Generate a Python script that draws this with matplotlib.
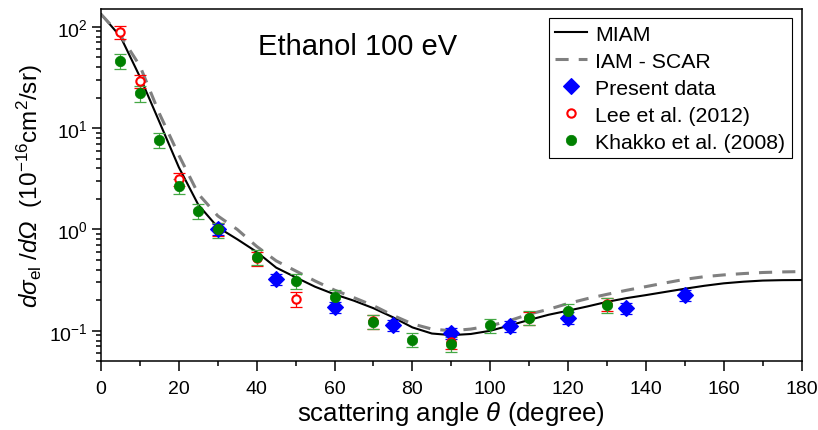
import numpy as np
import matplotlib
matplotlib.use('Agg')
import matplotlib.pyplot as plt
import matplotlib.ticker as mticker

plt.rcParams['font.family'] = ['Liberation Sans', 'DejaVu Sans']
plt.rcParams['mathtext.fontset'] = 'custom'
plt.rcParams['mathtext.rm'] = 'Liberation Sans'
plt.rcParams['mathtext.it'] = 'Liberation Sans:italic'
plt.rcParams['mathtext.bf'] = 'Liberation Sans:bold'
# sf used only for the italic capital Omega in the y label
plt.rcParams['mathtext.sf'] = 'Liberation Sans:italic'
plt.rcParams['axes.unicode_minus'] = False

# theory curves
theory_angle = [0, 5, 10, 15, 20, 25, 30, 35, 40, 45, 50, 55, 60, 65, 70, 75, 80, 85, 90,
                95, 100, 105, 110, 115, 120, 125, 130, 135, 140, 145, 150, 155, 160, 165,
                170, 175, 180]
miam = [133, 80, 32, 11.5, 4.1, 1.75, 1.05, 0.8, 0.6, 0.42, 0.337, 0.272, 0.229, 0.198,
        0.167, 0.136, 0.108, 0.094, 0.0906, 0.093, 0.1, 0.113, 0.128, 0.144, 0.158, 0.174,
        0.193, 0.21, 0.225, 0.242, 0.26, 0.278, 0.294, 0.305, 0.313, 0.316, 0.317]
iam_scar = [133, 82, 41, 13.9, 5.4, 2.24, 1.36, 1.0, 0.68, 0.49, 0.39, 0.31, 0.252, 0.212,
            0.177, 0.142, 0.117, 0.104, 0.10, 0.104, 0.112, 0.126, 0.146, 0.163, 0.186,
            0.208, 0.229, 0.251, 0.273, 0.297, 0.322, 0.342, 0.356, 0.367, 0.376, 0.381, 0.384]

# present data
present_angle = [30, 45, 60, 75, 90, 105, 120, 135, 150]
present_dcs = [1.0, 0.323, 0.171, 0.114, 0.095, 0.111, 0.135, 0.169, 0.223]
present_err = [0.12, 0.04, 0.02, 0.014, 0.012, 0.014, 0.017, 0.021, 0.027]

# Lee et al. (2012)
lee_angle = [5, 10, 20, 30, 40, 50, 70, 90, 110, 130]
lee_dcs = [89, 28.9, 3.15, 1.02, 0.52, 0.207, 0.124, 0.078, 0.133, 0.185]
lee_err = [13, 4.3, 0.47, 0.15, 0.08, 0.037, 0.019, 0.012, 0.02, 0.028]

# Khakko et al. (2008)
khakko_angle = [5, 10, 15, 20, 25, 30, 40, 50, 60, 70, 80, 90, 100, 110, 120, 130]
khakko_dcs = [46.4, 22.0, 7.6, 2.7, 1.53, 1.0, 0.535, 0.31, 0.215, 0.123, 0.082, 0.074,
              0.113, 0.135, 0.158, 0.18]
khakko_err = [8.0, 3.8, 1.3, 0.45, 0.26, 0.17, 0.09, 0.05, 0.035, 0.02, 0.013, 0.012,
              0.018, 0.022, 0.026, 0.03]

fig = plt.figure(figsize=(8.18, 4.31), dpi=100)
ax = fig.add_axes([0.1235, 0.1594, 0.8565, 0.8176])

ax.plot(theory_angle, miam, color='black', lw=1.5, label='MIAM', zorder=2)
ax.plot(theory_angle, iam_scar, color='#808080', lw=2.2, dashes=(4.3, 3.3),
        label='IAM - SCAR', zorder=2)

# error bars
ax.errorbar(present_angle, present_dcs, yerr=present_err, fmt='none', ecolor='blue',
            elinewidth=0.9, capsize=4, capthick=0.9, zorder=3)
ax.errorbar(lee_angle, lee_dcs, yerr=lee_err, fmt='none', ecolor='red',
            elinewidth=0.9, capsize=4, capthick=0.9, zorder=3)
ax.errorbar(khakko_angle, khakko_dcs, yerr=khakko_err, fmt='none', ecolor='#45a845',
            elinewidth=0.9, capsize=4, capthick=0.9, zorder=3)

# markers
ax.plot(present_angle, present_dcs, 'D', color='blue', ms=8.5, mec='blue', mew=0.8,
        label='Present data', zorder=4)
ax.plot(lee_angle, lee_dcs, 'o', mfc='white', mec='red', ms=6, mew=1.5,
        label='Lee et al. (2012)', zorder=4)
ax.plot(khakko_angle, khakko_dcs, 'o', color='green', ms=7.5, mec='green', mew=0.5,
        label='Khakko et al. (2008)', zorder=5)

ax.set_yscale('log')
ax.set_xlim(0, 180)
ax.set_ylim(0.05, 150)
ax.xaxis.set_major_locator(mticker.MultipleLocator(20))
ax.xaxis.set_minor_locator(mticker.MultipleLocator(10))
ax.yaxis.set_major_locator(mticker.LogLocator(base=10, numticks=10))
ax.yaxis.set_minor_locator(mticker.LogLocator(base=10, subs=np.arange(2, 10), numticks=20))
ax.yaxis.set_minor_formatter(mticker.NullFormatter())

ax.tick_params(which='both', direction='out', width=1.1, labelsize=14)
ax.tick_params(axis='x', which='major', length=7.2, pad=6)
ax.tick_params(axis='x', which='minor', length=3.6)
ax.tick_params(axis='y', which='major', length=6.7, pad=3)
ax.tick_params(axis='y', which='minor', length=3.6)
for sp in ax.spines.values():
    sp.set_linewidth(1.1)

ax.set_xlabel(r'scattering angle $\theta$ (degree)', fontsize=18.5, labelpad=2)
ax.set_ylabel(r'$\mathit{d\sigma}_{\mathrm{el}}$ /$\mathit{d}\mathsf{\Omega}$  (10$^{-16}$cm$^{2}$/sr)',
              fontsize=17.5, labelpad=3)

ax.text(0.224, 0.872, 'Ethanol 100 eV', transform=ax.transAxes, fontsize=21,
        ha='left', va='baseline')

leg = ax.legend(loc='upper right', bbox_to_anchor=(0.986, 0.9736), borderaxespad=0,
                fontsize=15.3, frameon=True, fancybox=False, edgecolor='black',
                framealpha=1, numpoints=1, handlelength=1.5, handletextpad=0.4,
                labelspacing=0.38, borderpad=0.3)
leg.get_frame().set_linewidth(0.8)

fig.savefig('out.png', dpi=100)
